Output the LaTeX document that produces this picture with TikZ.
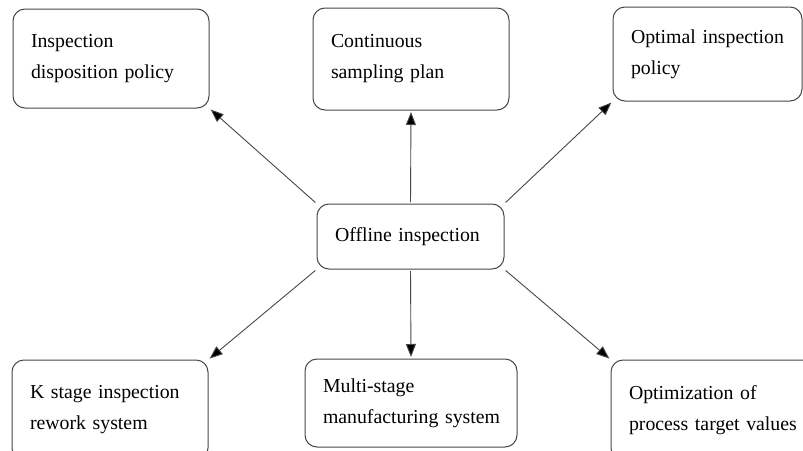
\documentclass[tikz,border=0pt]{standalone}
\usepackage{fontspec}
\setmainfont{Liberation Serif}[WordSpace=0.75]
\usetikzlibrary{arrows.meta}

\begin{document}
\begin{tikzpicture}[x=1pt,y=-1pt,
  box/.style={draw=black!72, line width=1pt, rounded corners=12pt,
    inner xsep=18pt, inner ysep=0pt, align=left,
    font=\fontsize{19.8}{31}\selectfont,
    execute at begin node={\hyphenpenalty=10000\exhyphenpenalty=10000\hbadness=10000\hfuzz=20pt}},
  arr/.style={draw=black!72, line width=0.9pt,
    -{Triangle[length=13pt,width=10pt,fill=black]},
    shorten <=1.5pt, shorten >=1.5pt}]
  \clip (0,0) rectangle (803,450);
  \fill[white] (0,0) rectangle (803,450);

  % central topic
  \node[box, text width=151pt, minimum height=65pt] (c) at (410.5,236.5)
    {Offline inspection};

  % top row
  \node[box, text width=160pt, minimum height=99pt] (tl) at (111,58.5)
    {Inspection\\disposition policy};
  \node[box, text width=160pt, minimum height=102pt] (tm) at (411,59)
    {Continuous\\sampling plan};
  \node[box, text width=153pt, minimum height=94pt] (tr) at (707.5,54)
    {Optimal~inspection\\policy};

  % bottom row (running off the lower edge)
  \node[box, text width=160pt, minimum height=100pt] (bl) at (110,410)
    {K~stage~inspection\\rework~system};
  \node[box, text width=176pt, minimum height=88pt] (bm) at (411,403)
    {Multi-stage\\manufacturing~system};
  \node[box, text width=179pt, minimum height=100pt] (br) at (718.5,410)
    {Optimization~of\\process~target~values};

  % connectors
  \draw[arr] (c.north west) -- (tl.south east);
  \draw[arr] (c.north) -- (tm.south);
  \draw[arr] (c.north east) -- (tr.south west);
  \draw[arr] (c.south west) -- (bl.north east);
  \draw[arr] (c.south) -- (bm.north);
  \draw[arr] (c.south east) -- (br.north west);
\end{tikzpicture}
\end{document}
